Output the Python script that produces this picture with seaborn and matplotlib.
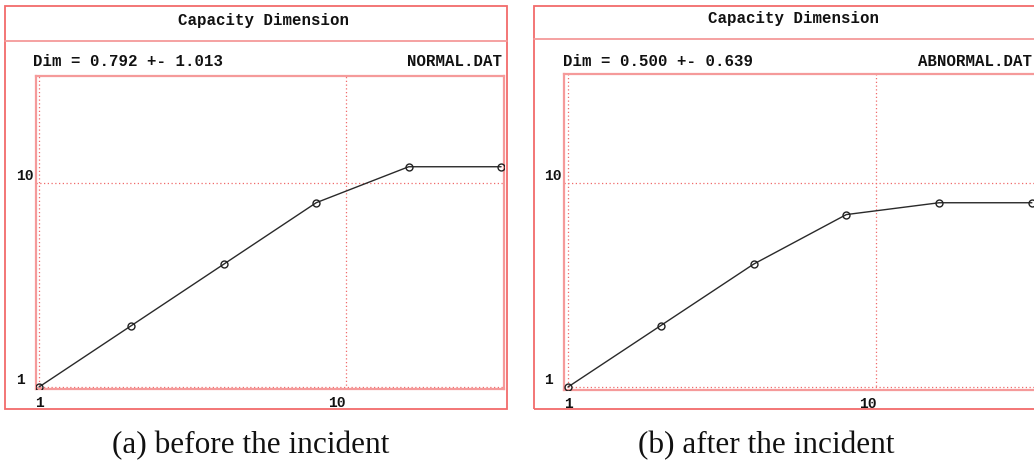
import matplotlib
matplotlib.use("Agg")
import matplotlib.pyplot as plt
from matplotlib.patches import Rectangle
from matplotlib.lines import Line2D
from matplotlib.ticker import NullLocator
import seaborn as sns
import pandas as pd

# ---- data ----
box_size = [1, 2, 4, 8, 16, 32]
count_before = [1, 2, 4, 8, 12, 12]
count_after = [1, 2, 4, 7, 8, 8]
tick_values = [1, 10]
tick_labels = ["1", "10"]
chart_title = "Capacity Dimension"
dim_texts = ["Dim = 0.792 +- 1.013", "Dim = 0.500 +- 0.639"]
file_names = ["NORMAL.DAT", "ABNORMAL.DAT"]
captions = ["(a) before the incident", "(b) after the incident"]

sns.set_theme(style="white")
plt.rcParams["font.family"] = ["DejaVu Sans"]

W, H = 1034, 466
fig = plt.figure(figsize=(W / 100, H / 100), dpi=100)
fig.patch.set_facecolor("white")

RED = "#f26b6b"
RED_LIGHT = "#f59a9a"
GRID_RED = "#f06a6a"
MONO = ["Liberation Mono", "DejaVu Sans Mono"]
SERIF = ["Liberation Serif", "DejaVu Serif"]


def fx(x):
    return x / W


def fy(y):
    return 1 - y / H


def add_axes_px(x0, y0, x1, y1):
    return fig.add_axes([fx(x0), fy(y1), fx(x1) - fx(x0), fy(y0) - fy(y1)])


panels = [
    dict(series=count_before, frame=(5, 6, 507, 409), sep=41, title=(263, 21),
         dim=(33, 62), fname=(502, 62), axes=(36, 76, 504, 389),
         xlim=(0.978, 32.7), ylim=(0.978, 33.4), caption=(251, 446)),
    dict(series=count_after, frame=(534, 6, 1036, 409), sep=39, title=(793, 19),
         dim=(563, 61), fname=(1032, 61), axes=(564, 74, 1036, 390),
         xlim=(0.971, 33.0), ylim=(0.967, 34.2), caption=(766, 446)),
]

for i, p in enumerate(panels):
    x0, y0, x1, y1 = p["frame"]
    fig.patches.append(Rectangle((fx(x0), fy(y1)), fx(x1) - fx(x0), fy(y0) - fy(y1),
                                 transform=fig.transFigure, fill=False,
                                 edgecolor=RED, lw=1.3, zorder=0))
    fig.lines.append(Line2D([fx(x0), fx(x1)], [fy(p["sep"]), fy(p["sep"])],
                            transform=fig.transFigure, color=RED_LIGHT, lw=1.3))
    fig.text(fx(p["title"][0]), fy(p["title"][1]), chart_title, ha="center", va="center",
             family=MONO, fontweight="bold", fontsize=11.3, color="#111111")
    fig.text(fx(p["dim"][0]), fy(p["dim"][1]), dim_texts[i], ha="left", va="center",
             family=MONO, fontweight="bold", fontsize=11.3, color="#111111")
    fig.text(fx(p["fname"][0]), fy(p["fname"][1]), file_names[i], ha="right", va="center",
             family=MONO, fontweight="bold", fontsize=11.3, color="#111111")
    fig.text(fx(p["caption"][0]), fy(p["caption"][1]), captions[i], ha="center", va="center",
             family=SERIF, fontsize=22.5, color="#111111")

    ax = add_axes_px(*p["axes"])
    ax.set_facecolor("white")
    df = pd.DataFrame({"box": box_size, "count": p["series"]})
    sns.lineplot(data=df, x="box", y="count", ax=ax, color="#2a2a2a", lw=1.0,
                 marker="o", markersize=5, markerfacecolor="none",
                 markeredgecolor="#222222", markeredgewidth=1.0, zorder=3)
    ax.set_xscale("log")
    ax.set_yscale("log")
    ax.set_xlim(*p["xlim"])
    ax.set_ylim(*p["ylim"])
    ax.set_xticks(tick_values)
    ax.set_xticklabels(tick_labels)
    ax.set_yticks(tick_values)
    ax.set_yticklabels(tick_labels)
    ax.xaxis.set_minor_locator(NullLocator())
    ax.yaxis.set_minor_locator(NullLocator())
    ax.set_xlabel("")
    ax.set_ylabel("")
    ax.grid(True, which="major", color=GRID_RED, linestyle=(0, (1, 2)), lw=0.9)
    ax.set_axisbelow(True)
    for s in ax.spines.values():
        s.set_visible(True)
        s.set_color(RED_LIGHT)
        s.set_linewidth(1.6)
    ax.tick_params(axis="both", length=0)
    ax.tick_params(axis="y", pad=14.4)
    ax.tick_params(axis="x", pad=5)
    for lab in ax.get_yticklabels():
        lab.set_fontfamily(MONO)
        lab.set_fontweight("bold")
        lab.set_fontsize(10.5)
        lab.set_ha("left")
        lab.set_color("#111111")
    ylabs = ax.get_yticklabels()
    ylabs[0].set_va("bottom")
    ylabs[1].set_va("bottom")
    for j, lab in enumerate(ax.get_xticklabels()):
        lab.set_fontfamily(MONO)
        lab.set_fontweight("bold")
        lab.set_fontsize(10.5)
        lab.set_color("#111111")
        lab.set_ha("center" if j == 0 else "right")
    if ax.get_legend():
        ax.get_legend().remove()

fig.savefig("out.png", dpi=100, facecolor="white")
